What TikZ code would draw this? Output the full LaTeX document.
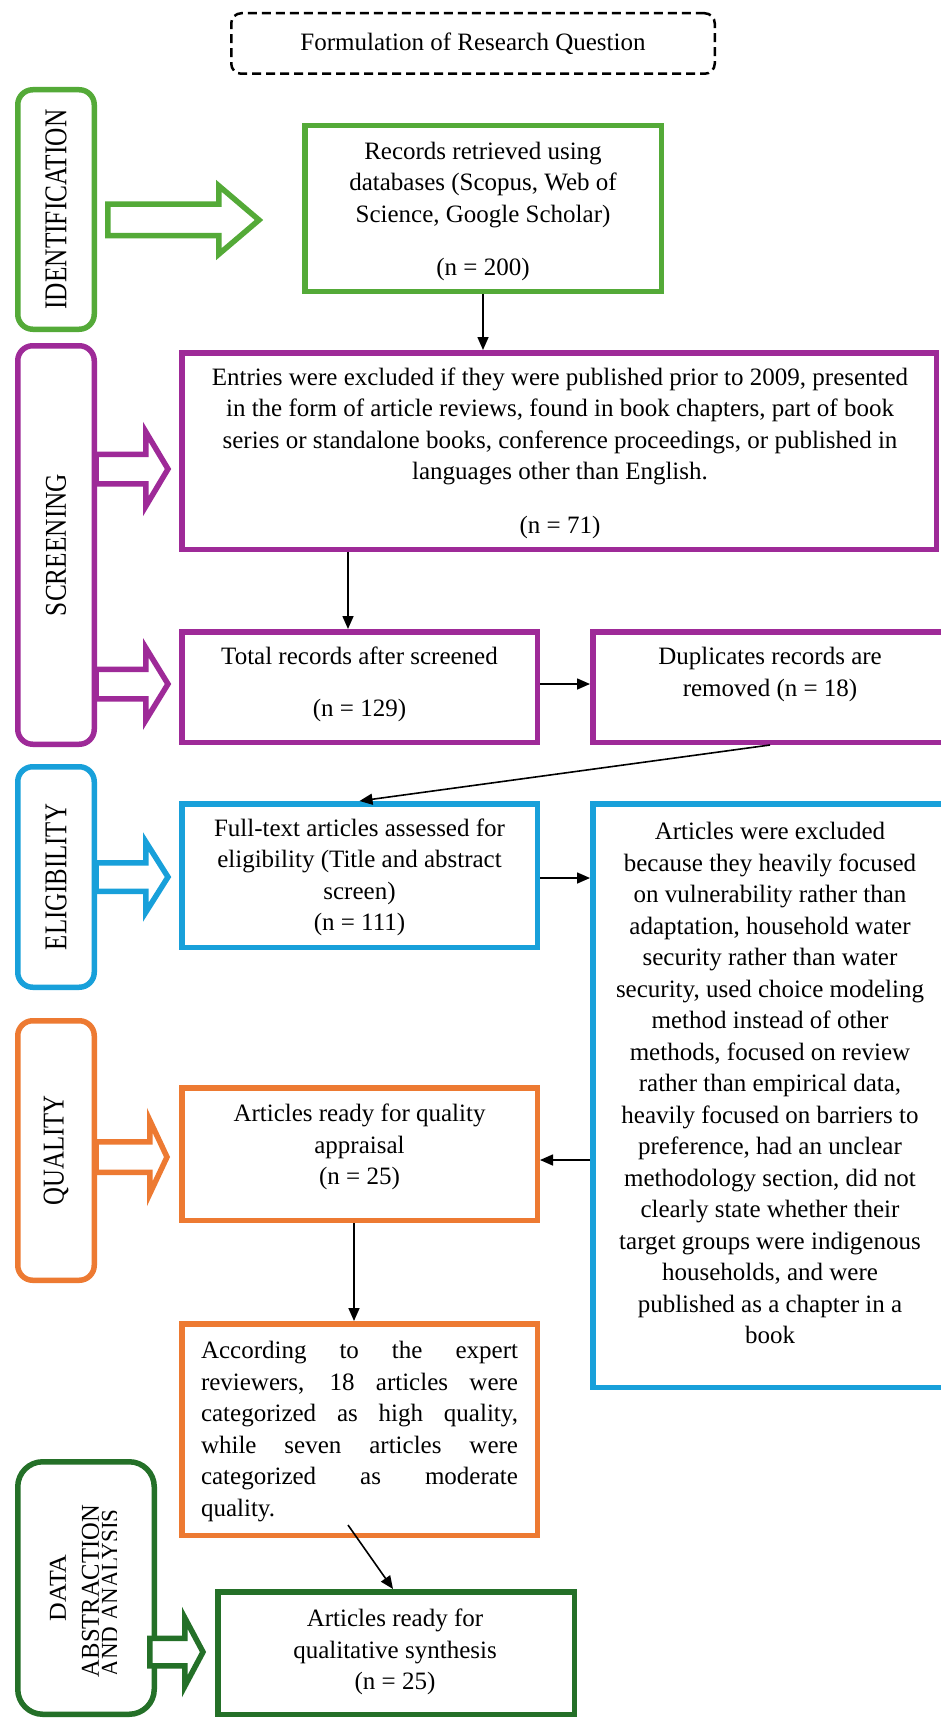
\documentclass[tikz,border=0pt]{standalone}
\usepackage{fontspec}
\setmainfont{Liberation Serif}
\usepackage{graphicx}
\usetikzlibrary{arrows.meta,calc}

\definecolor{cgreen}{RGB}{84,170,56}
\definecolor{cpurple}{RGB}{158,42,152}
\definecolor{cblue}{RGB}{24,160,218}
\definecolor{corange}{RGB}{237,122,50}
\definecolor{cdgreen}{RGB}{36,112,40}

\newcommand{\fs}{\fontsize{25}{31.5}\selectfont}

% color, x0, hx, tip, cy, shaft half, head half
\newcommand{\blkarrow}[7]{%
  \draw[line width=5.5pt, draw=#1, fill=white, line join=miter]
    (#2,#5-#6) -- (#3,#5-#6) -- (#3,#5-#7) -- (#4,#5) -- (#3,#5+#7) -- (#3,#5+#6) -- (#2,#5+#6) -- cycle;}

\tikzset{
  bx/.style 2 args={draw, line width=5.5pt, rectangle, inner sep=0pt, fill=white,
    minimum width=#1, minimum height=#2},
  sidebx/.style 2 args={draw, line width=5.5pt, rounded corners=15pt, inner sep=0pt, fill=white,
    minimum width=#1, minimum height=#2},
  txt/.style={font=\fs, align=center, inner sep=0pt, text=black},
  conn/.style={line width=1.6pt, draw=black, -{Triangle[length=13pt,width=11pt]}},
}

\begin{document}
\begin{tikzpicture}[x=1pt,y=-1pt]
\useasboundingbox (0,0) rectangle (940,1720);
\fill[white] (0,0) rectangle (940,1720);

% top dashed box
\node[draw, line width=2.5pt, dash pattern=on 9pt off 5pt, rounded corners=10pt,
      minimum width=483.5pt, minimum height=60.5pt, inner sep=0pt, font=\fs] (fq) at (473,43.5)
      {Formulation of Research Question};

% ---------- side boxes ----------
\node[sidebx={76.5pt}{239.5pt}, draw=cgreen] (sid) at (56,209.5)
  {\rotatebox{90}{\resizebox{200pt}{21pt}{\fs IDENTIFICATION}}};
\node[sidebx={76.5pt}{398.5pt}, draw=cpurple] (sscr) at (56,545)
  {\rotatebox{90}{\resizebox{142pt}{20pt}{\fs SCREENING}}};
\node[sidebx={76.5pt}{220.5pt}, draw=cblue] (sel) at (56,877)
  {\rotatebox{90}{\resizebox{146pt}{21pt}{\fs ELIGIBILITY}}};
\node[sidebx={76.5pt}{259.5pt}, draw=corange] (squ) at (56,1150.5)
  {\rotatebox{90}{\resizebox{110pt}{20pt}{\fs QUALITY}}};
\node[sidebx={136.5pt}{252.5pt}, draw=cdgreen, rounded corners=25pt] (sda) at (86,1588) {};
\node[rotate=90, inner sep=0pt] (dl1) at (58,1588) {\resizebox{67pt}{16pt}{\fs DATA}};
\node[rotate=90, inner sep=0pt] (dl2) at (90.5,1591) {\resizebox{172pt}{17pt}{\fs ABSTRACTION}};
\begin{scope}
  \clip (98,1480) rectangle (116.5,1700);
  \node[rotate=90, inner sep=0pt] (dl3) at (110,1593) {\resizebox{167pt}{16pt}{\fs AND ANALYSIS}};
\end{scope}

% ---------- block arrows ----------
\blkarrow{cgreen}{107.75}{218.75}{259}{220}{15.75}{34.25}
\blkarrow{cpurple}{96}{145.75}{168}{469}{14.75}{37.25}
\blkarrow{cpurple}{96}{145.75}{168}{684}{14.75}{36.25}
\blkarrow{cblue}{96}{145.75}{168}{877}{14.25}{35.25}
\blkarrow{corange}{96}{149.75}{167}{1157}{15.25}{36.75}
\blkarrow{cdgreen}{149.75}{184.75}{203}{1652}{13.75}{34.25}

% ---------- main boxes ----------
\node[bx={356.5pt}{165.5pt}, draw=cgreen] (rec) at (483,208.5) {};
\node[txt] (trec) at (483,211) {Records retrieved using\\databases (Scopus, Web of\\Science, Google Scholar)\\[21.5pt](n = 200)};

\node[bx={754.5pt}{196.5pt}, draw=cpurple] (ent) at (559,451) {};
\node[txt] (tent) at (560,453) {Entries were excluded if they were published prior to 2009, presented\\in the form of article reviews, found in book chapters, part of book\\series or standalone books, conference proceedings, or published in\\languages other than English.\\[22pt](n = 71)};

\node[bx={355.5pt}{110.5pt}, draw=cpurple] (tot) at (359.5,687) {};
\node[txt] (ttot) at (359.5,684.5) {Total records after screened\\[20.5pt](n = 129)};

\node[bx={354.5pt}{110.5pt}, draw=cpurple] (dup) at (770,687) {};
\node[txt] (tdup) at (770,674.5) {Duplicates records are\\removed (n = 18)};

\node[bx={355.5pt}{143.5pt}, draw=cblue] (ful) at (359.5,875.5) {};
\node[txt] (tful) at (359.5,877.5) {Full-text articles assessed for\\eligibility (Title and abstract\\screen)\\(n = 111)};

\node[bx={354.5pt}{583.5pt}, draw=cblue] (exc) at (770,1095.5) {};
\node[txt] (texc) at (770,1083) {Articles were excluded\\because they heavily focused\\on vulnerability rather than\\adaptation, household water\\security rather than water\\security, used choice modeling\\method instead of other\\methods, focused on review\\rather than empirical data,\\heavily focused on barriers to\\preference, had an unclear\\methodology section, did not\\clearly state whether their\\target groups were indigenous\\households, and were\\published as a chapter in a\\book};

\node[bx={355.5pt}{132.5pt}, draw=corange] (qbx) at (359.5,1154) {};
\node[txt] (tqbx) at (359.5,1147) {Articles ready for quality\\appraisal\\(n = 25)};

\node[bx={355.5pt}{211.5pt}, draw=corange] (acc) at (359.5,1429.5) {};
\node[font=\fs, text width=317pt, align=justify, inner sep=0pt] (tacc) at (359.5,1431.5)
  {\hyphenpenalty=10000 According to the expert\linebreak reviewers, 18 articles were\linebreak categorized as high quality,\linebreak while seven articles were\linebreak categorized as moderate\linebreak quality.};

\node[bx={356.5pt}{122.5pt}, draw=cdgreen] (syn) at (396,1653) {};
\node[txt] (tsyn) at (395,1652) {Articles ready for\\qualitative synthesis\\(n = 25)};

% ---------- connectors ----------
\draw[conn] (rec.south) -- (rec.south |- ent.north);
\coordinate (a1) at ($(tot.north)+(-11.5,0)$);
\draw[conn] (a1 |- ent.south) -- (a1);
\coordinate (a2) at ($(tot.east)+(0,-3)$);
\draw[conn] (a2) -- (a2 -| dup.west);
\draw[conn] (dup.south) -- (ful.north);
\coordinate (a3) at ($(ful.east)+(0,2.5)$);
\draw[conn] (a3) -- (a3 -| exc.west);
\coordinate (a4) at ($(qbx.east)+(0,6)$);
\draw[conn] (a4 -| exc.west) -- (a4);
\coordinate (a5) at ($(acc.north)+(-5.5,0)$);
\draw[conn] (a5 |- qbx.south) -- (a5);
\coordinate (a6) at ($(acc.south)+(-11.5,-13)$);
\coordinate (a7) at ($(syn.north)+(-3,0)$);
\draw[conn] (a6) -- (a7);

\end{tikzpicture}
\end{document}
